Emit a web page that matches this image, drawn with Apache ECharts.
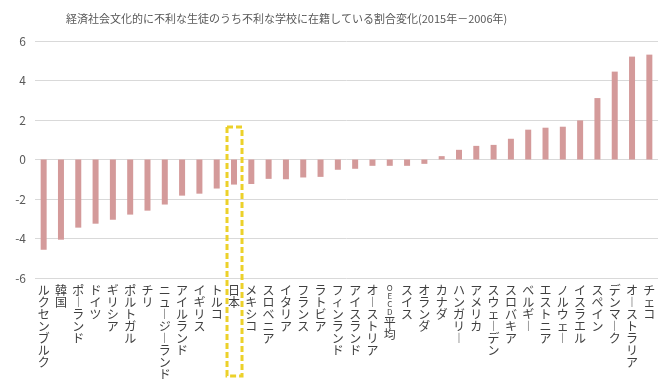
<!DOCTYPE html>
<html><head><meta charset="utf-8">
<script src="https://cdn.jsdelivr.net/npm/echarts@6/dist/echarts.min.js"></script>
<style>html,body{margin:0;padding:0;background:#fff}#c{width:670px;height:384px}</style>
</head><body><div id="c"></div>
<script>
const titleText = '経済社会文化的に不利な生徒のうち不利な学校に在籍している割合変化(2015年－2006年)';
const categories = ['ルクセンブルク','韓国','ポーランド','ドイツ','ギリシア','ポルトガル','チリ','ニュージーランド','アイルランド','イギリス','トルコ','日本','メキシコ','スロベニア','イタリア','フランス','ラトビア','フィンランド','アイスランド','オーストリア','OECD平均','スイス','オランダ','カナダ','ハンガリー','アメリカ','スウェーデン','スロバキア','ベルギー','エストニア','ノルウェー','イスラエル','スペイン','デンマーク','オーストラリア','チェコ'];
const values = [-4.57,-4.06,-3.45,-3.25,-3.05,-2.79,-2.59,-2.28,-1.83,-1.73,-1.47,-1.27,-1.24,-0.98,-1.0,-0.91,-0.88,-0.52,-0.47,-0.32,-0.32,-0.32,-0.22,0.17,0.49,0.69,0.74,1.05,1.51,1.61,1.66,1.98,3.11,4.45,5.21,5.31];
const yTicks = [-6,-4,-2,0,2,4,6];
const highlight = '日本';

const chart = echarts.init(document.getElementById('c'));
function vert(s){
  let out=[];
  for(const ch of s){
    if(/[A-Za-z]/.test(ch)){ out.push('{a|'+ch+'}'); }
    else out.push(ch==='ー' ? '︱' : ch);
  }
  return out.join('\n');
}
chart.setOption({
  animation:false,
  title:{text:titleText,left:61,top:8,textStyle:{fontSize:11,fontWeight:'normal',color:'#595959',fontFamily:'Noto Sans CJK JP'}},
  grid:{left:35,right:12,top:41,bottom:106},
  xAxis:{type:'category',data:categories,
    axisLine:{show:false,onZero:false},axisTick:{show:false},
    axisLabel:{interval:0,margin:6,formatter:vert,fontSize:12,lineHeight:12,color:'#404040',fontFamily:'Noto Sans CJK JP',verticalAlign:'top',
      rich:{a:{fontSize:8,lineHeight:8,color:'#404040',fontFamily:'Noto Sans CJK JP'}}}},
  yAxis:{type:'value',min:yTicks[0],max:yTicks[yTicks.length-1],interval:2,
    axisLine:{show:false},axisTick:{show:false},
    axisLabel:{fontSize:12,color:'#595959',margin:9,fontFamily:'Noto Sans CJK JP'},
    splitLine:{lineStyle:{color:'#d9d9d9',width:1}}},
  series:[{type:'bar',data:values,barWidth:6,itemStyle:{color:'#d49a9a'}}]
});
const cx = chart.convertToPixel({xAxisIndex:0}, highlight);
const ty = chart.convertToPixel({yAxisIndex:0}, 1.65);
const by = chart.convertToPixel({yAxisIndex:0}, -6) + 98;
chart.setOption({graphic:[{type:'rect',shape:{x:cx-7,y:ty,width:15,height:by-ty},
  style:{fill:'none',stroke:'#ecd12a',lineWidth:3,lineDash:[6,3]},z:100}]});
</script></body></html>
